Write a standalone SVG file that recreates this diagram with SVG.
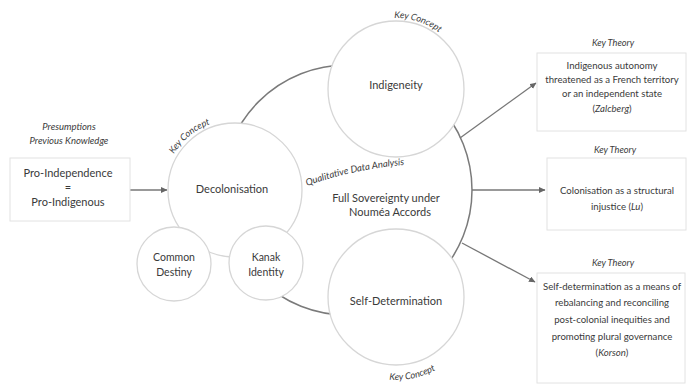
<svg xmlns="http://www.w3.org/2000/svg" width="688" height="385" viewBox="0 0 688 385">
<style>
text{font-family:Lato,"Noto Sans","Liberation Sans",sans-serif;fill:#3a3a3a}
.c{fill:#fff;stroke:#d6d6d6;stroke-width:1.3}
.big{fill:none;stroke:#7a7a7a;stroke-width:1.5}
.box{fill:#fff;stroke:#e2e2e2;stroke-width:1}
.lbl{font-size:11px;text-anchor:middle}
.it{font-style:italic;font-size:9.2px}
.t{font-size:9.6px;text-anchor:middle}
.ar{stroke:#777;stroke-width:1.3;fill:none;marker-end:url(#ah)}
</style>
<defs>
<marker id="ah" markerWidth="8" markerHeight="8" refX="6" refY="3" orient="auto" markerUnits="userSpaceOnUse">
<path d="M0,0 L6.5,3 L0,6 Z" fill="#666"/>
</marker>
<path id="kc1" d="M165,177.8 A70,70 0 0 1 235,120"/>
<path id="kc2" d="M369.4,23.2 A71,71 0 0 1 456.2,51.4"/>
<path id="kc3" d="M357,370.3 A83,83 0 0 0 461.4,348.1"/>
<path id="qda" d="M307,186 Q352,169 413,164"/>
</defs>
<rect width="688" height="385" fill="#fff"/>

<g id="connectors">
<circle class="big" cx="347" cy="190" r="125"/>
<line class="ar" x1="130" y1="190" x2="167" y2="190"/>
<line class="ar" x1="460" y1="138" x2="536" y2="83"/>
<line class="ar" x1="472" y1="190" x2="545" y2="190"/>
<line class="ar" x1="462" y1="243" x2="535" y2="282"/>
</g>

<g id="qualitative">
<text class="it" style="font-size:9.5px"><textPath href="#qda">Qualitative Data Analysis</textPath></text>
<text class="lbl" x="386" y="202">Full Sovereignty under</text>
<text class="lbl" x="390" y="216">Nouméa Accords</text>
</g>

<g id="presumptions">
<text class="it" x="69" y="130" text-anchor="middle" style="font-size:9.5px">Presumptions</text>
<text class="it" x="69" y="144" text-anchor="middle" style="font-size:9.5px">Previous Knowledge</text>
<rect class="box" x="10" y="158" width="120" height="63"/>
<text class="lbl" x="68" y="177">Pro-Independence</text>
<text class="lbl" x="68" y="191">=</text>
<text class="lbl" x="68" y="206">Pro-Indigenous</text>
</g>

<g id="decolonisation">
<circle class="c" cx="235" cy="190" r="67"/>
<text class="lbl" x="232" y="193">Decolonisation</text>
<text class="it"><textPath href="#kc1" startOffset="50%" text-anchor="middle">Key Concept</textPath></text>
</g>

<g id="common-destiny">
<circle class="c" cx="174" cy="264" r="37"/>
<text class="lbl" style="font-size:10.5px" x="174" y="261">Common</text>
<text class="lbl" style="font-size:10.5px" x="174" y="276">Destiny</text>
</g>

<g id="kanak-identity">
<circle class="c" cx="266" cy="263" r="37"/>
<text class="lbl" style="font-size:10.5px" x="266" y="261">Kanak</text>
<text class="lbl" style="font-size:10.5px" x="266" y="276">Identity</text>
</g>

<g id="indigeneity">
<circle class="c" cx="396" cy="89" r="68"/>
<text class="lbl" x="396" y="89">Indigeneity</text>
<text class="it"><textPath href="#kc2" startOffset="50%" text-anchor="middle">Key Concept</textPath></text>
</g>

<g id="self-determination">
<circle class="c" cx="396" cy="297" r="68"/>
<text class="lbl" x="396" y="305">Self-Determination</text>
<text class="it"><textPath href="#kc3" startOffset="50%" text-anchor="middle">Key Concept</textPath></text>
</g>

<g id="theory-zalcberg">
<text class="it" x="613" y="46" text-anchor="middle">Key Theory</text>
<rect class="box" x="537" y="53" width="149" height="78"/>
<text class="t" x="612" y="69">Indigenous autonomy</text>
<text class="t" x="612" y="83">threatened as a French territory</text>
<text class="t" x="612" y="97">or an independent state</text>
<text class="t" x="612" y="112">(<tspan font-style="italic">Zalcberg</tspan>)</text>
</g>

<g id="theory-lu">
<text class="it" x="615" y="153" text-anchor="middle">Key Theory</text>
<rect class="box" x="547" y="158" width="139" height="72"/>
<text class="t" x="617" y="194">Colonisation as a structural</text>
<text class="t" x="617" y="210">injustice (<tspan font-style="italic">Lu</tspan>)</text>
</g>

<g id="theory-korson">
<text class="it" x="613" y="266" text-anchor="middle">Key Theory</text>
<rect class="box" x="537" y="273" width="148" height="110"/>
<text class="t" x="612" y="290">Self-determination as a means of</text>
<text class="t" x="612" y="306">rebalancing and reconciling</text>
<text class="t" x="612" y="323">post-colonial inequities and</text>
<text class="t" x="612" y="340">promoting plural governance</text>
<text class="t" x="612" y="356">(<tspan font-style="italic">Korson</tspan>)</text>
</g>
</svg>
